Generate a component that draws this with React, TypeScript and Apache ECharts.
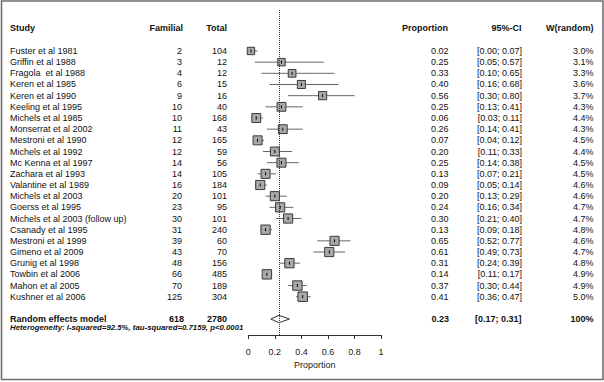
import React, { useEffect, useRef } from "react";
import * as echarts from "echarts";

const studies = [
  "Fuster et al 1981", "Griffin et al 1988", "Fragola  et al 1988", "Keren et al 1985",
  "Keren et al 1990", "Keeling et al 1995", "Michels et al 1985", "Monserrat et al 2002",
  "Mestroni et al 1990", "Michels et al 1992", "Mc Kenna et al 1997", "Zachara et al 1993",
  "Valantine et al 1989", "Michels et al 2003", "Goerss et al 1995",
  "Michels et al 2003 (follow up)", "Csanady et al 1995", "Mestroni et al 1999",
  "Gimeno et al 2009", "Grunig et al 1998", "Towbin et al 2006", "Mahon et al 2005",
  "Kushner et al 2006",
];
const familial = [2, 3, 4, 6, 9, 10, 10, 11, 12, 12, 14, 14, 16, 20, 23, 30, 31, 39, 43, 48, 66, 70, 125];
const totals = [104, 12, 12, 15, 16, 40, 168, 43, 165, 59, 56, 105, 184, 101, 95, 101, 240, 60, 70, 156, 485, 189, 304];
const proportion = [0.02, 0.25, 0.33, 0.40, 0.56, 0.25, 0.06, 0.26, 0.07, 0.20, 0.25, 0.13, 0.09, 0.20, 0.24, 0.30, 0.13, 0.65, 0.61, 0.31, 0.14, 0.37, 0.41];
const ciLower = [0.00, 0.05, 0.10, 0.16, 0.30, 0.13, 0.03, 0.14, 0.04, 0.11, 0.14, 0.07, 0.05, 0.13, 0.16, 0.21, 0.09, 0.52, 0.49, 0.24, 0.11, 0.30, 0.36];
const ciUpper = [0.07, 0.57, 0.65, 0.68, 0.80, 0.41, 0.11, 0.41, 0.12, 0.33, 0.38, 0.21, 0.14, 0.29, 0.34, 0.40, 0.18, 0.77, 0.73, 0.39, 0.17, 0.44, 0.47];
const weights = [3.0, 3.1, 3.3, 3.6, 3.7, 4.3, 4.4, 4.3, 4.5, 4.4, 4.5, 4.5, 4.6, 4.6, 4.7, 4.7, 4.8, 4.6, 4.7, 4.8, 4.9, 4.9, 5.0];

const headers = ["Study", "Familial", "Total", "Proportion", "95%-CI", "W(random)"];
const pooledLabel = "Random effects model";
const pooledFamilial = 618;
const pooledTotal = 2780;
const pooledEst = 0.23;
const pooledLower = 0.17;
const pooledUpper = 0.31;
const pooledWeight = "100%";
const heterogeneity = "Heterogeneity: I-squared=92.5%, tau-squared=0.7159, p<0.0001";
const axisTitle = "Proportion";

const FONT = '"Liberation Sans", Arial, sans-serif';
const colX = [10, 182, 227, 448.5, 522, 593.5];
const colAlign = ["left", "right", "right", "right", "right", "right"];

const HEADER_ROW = -2.1;
const POOLED_ROW = studies.length + 1;
const HET_ROW = POOLED_ROW + 0.8;

const fmtCI = (lo: number, hi: number) => `[${lo.toFixed(2)}; ${hi.toFixed(2)}]`;

type TableRow = { row: number; cells: string[]; font: string; xs?: number[] };

const tableRows: TableRow[] = [
  { row: HEADER_ROW, cells: headers, font: `bold 9px ${FONT}`, xs: [10, 183, 227, 448, 521.5, 593.5] },
  ...studies.map((s, i) => ({
    row: i,
    cells: [s, String(familial[i]), String(totals[i]), proportion[i].toFixed(2), fmtCI(ciLower[i], ciUpper[i]), weights[i].toFixed(1) + "%"],
    font: `9px ${FONT}`,
  })),
  {
    row: POOLED_ROW,
    cells: [pooledLabel, String(pooledFamilial), String(pooledTotal), pooledEst.toFixed(2), fmtCI(pooledLower, pooledUpper), pooledWeight],
    font: `bold 9px ${FONT}`,
    xs: [10, 184, 227, 449, 521.5, 593.5],
  },
  { row: HET_ROW, cells: [heterogeneity], font: `italic bold 7.8px ${FONT}` },
];

export default function App() {
  const ref = useRef<HTMLDivElement>(null);
  useEffect(() => {
    if (!ref.current) return;
    const chart = echarts.init(ref.current, undefined, { renderer: "svg" });
    const option: any = {
      animation: false,
      backgroundColor: "#ffffff",
      grid: { left: 248.3, right: 223, top: 10, bottom: 47, containLabel: false },
      xAxis: {
        type: "value",
        min: 0,
        max: 1,
        interval: 0.2,
        splitLine: { show: false },
        axisLine: { show: true, onZero: false, lineStyle: { color: "#333", width: 1 } },
        axisTick: { show: true, length: 4, lineStyle: { color: "#333" } },
        axisLabel: { fontSize: 9, color: "#222", margin: 12, fontFamily: FONT },
        name: axisTitle,
        nameLocation: "middle",
        nameGap: 25,
        nameTextStyle: { fontSize: 9, color: "#222", fontFamily: FONT },
      },
      yAxis: {
        type: "value",
        inverse: true,
        min: -3.67,
        max: 25.43,
        show: false,
      },
      graphic: [
        {
          type: "rect",
          shape: { x: 1.5, y: 1, width: 601.5, height: 378.5 },
          style: { fill: "none", stroke: "#6f6f6f", lineWidth: 1.6 },
          silent: true,
        },
      ],
      series: [
        {
          type: "custom",
          clip: false,
          silent: true,
          data: tableRows.map((r, i) => [0, r.row, i]),
          encode: { x: 0, y: 1 },
          renderItem: (params: any, api: any) => {
            const r = tableRows[params.dataIndex];
            const y = api.coord([0, api.value(1)])[1];
            return {
              type: "group",
              children: r.cells.map((c, k) => ({
                type: "text",
                style: {
                  text: c,
                  x: (r.xs || colX)[k],
                  y,
                  font: r.font,
                  fill: "#111",
                  align: colAlign[k],
                  verticalAlign: "middle",
                  textAlign: colAlign[k],
                  textVerticalAlign: "middle",
                },
              })),
            };
          },
        },
        {
          type: "custom",
          clip: false,
          silent: true,
          data: studies.map((_, i) => [proportion[i], i, ciLower[i], ciUpper[i], weights[i]]),
          encode: { x: 0, y: 1 },
          renderItem: (params: any, api: any) => {
            const est = api.value(0);
            const row = api.value(1);
            const [cx, cy] = api.coord([est, row]);
            const x1 = api.coord([api.value(2), row])[0];
            const x2 = api.coord([api.value(3), row])[0];
            const s = 9.5 * Math.sqrt(api.value(4) / 5);
            return {
              type: "group",
              children: [
                { type: "line", shape: { x1, y1: cy, x2, y2: cy }, style: { stroke: "#666", lineWidth: 1 } },
                { type: "rect", shape: { x: cx - s / 2, y: cy - s / 2, width: s, height: s }, style: { fill: "#a8a8a8", stroke: "#3a3a3a", lineWidth: 1 } },
                { type: "line", shape: { x1: cx, y1: cy - 1.5, x2: cx, y2: cy + 1.5 }, style: { stroke: "#000", lineWidth: 1 } },
              ],
            };
          },
        },
        {
          type: "custom",
          clip: false,
          silent: true,
          data: [[pooledEst, POOLED_ROW, pooledLower, pooledUpper]],
          encode: { x: 0, y: 1 },
          renderItem: (params: any, api: any) => {
            const row = api.value(1);
            const [cx, cy] = api.coord([api.value(0), row]);
            const xl = api.coord([api.value(2), row])[0];
            const xr = api.coord([api.value(3), row])[0];
            const h = 3.7;
            return {
              type: "polygon",
              shape: { points: [[xl, cy], [cx, cy - h], [xr, cy], [cx, cy + h]] },
              style: { fill: "#fff", stroke: "#333", lineWidth: 1 },
              z2: 10,
            };
          },
          markLine: {
            silent: true,
            symbol: ["none", "none"],
            label: { show: false },
            lineStyle: { type: "dotted", color: "#333", width: 1 },
            data: [{ xAxis: pooledEst }],
          },
        },
      ],
    };
    chart.setOption(option);
    return () => chart.dispose();
  }, []);
  return (
    <div
      ref={ref}
      style={{ position: "absolute", left: 0, top: 0, width: 604, height: 382 }}
    />
  );
}
